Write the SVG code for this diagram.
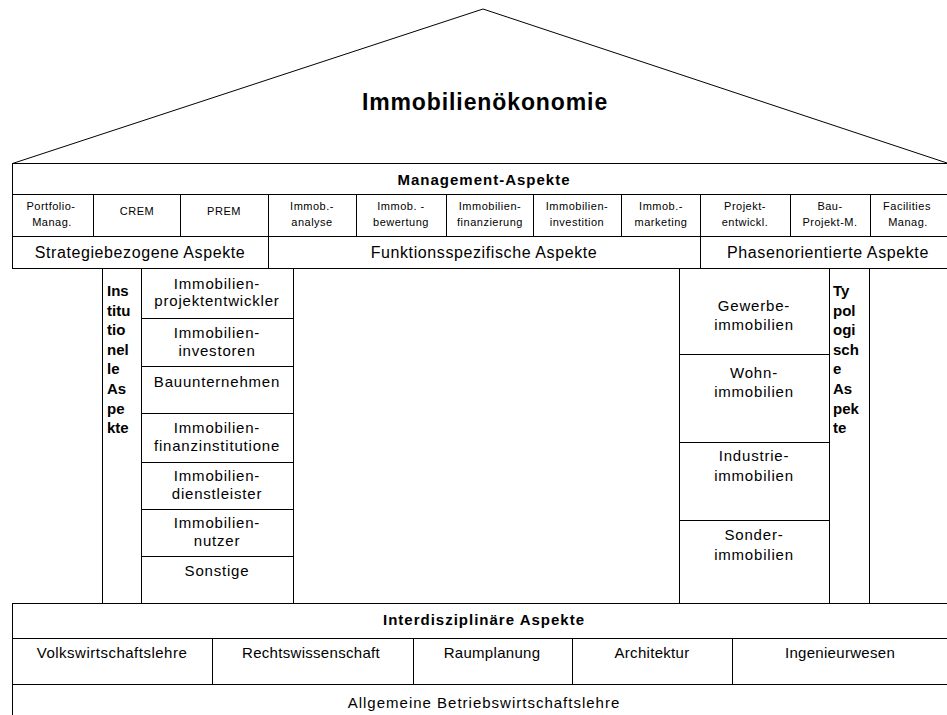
<svg xmlns="http://www.w3.org/2000/svg" width="947" height="715" viewBox="0 0 947 715">
<style>
text{font-family:"Liberation Sans",Arial,sans-serif;fill:#000;text-anchor:middle}
.ln{stroke:#000;stroke-width:1;fill:none}
.title{font-size:23px;font-weight:bold;letter-spacing:0.9px}
.hd{font-size:15px;font-weight:bold;letter-spacing:1px}
.sm{font-size:11px;letter-spacing:0.5px}
.md{font-size:16px;letter-spacing:0.6px}
.cell{font-size:15px;letter-spacing:0.8px}
.bt{font-size:15px;letter-spacing:0.3px}
.vt{font-size:15px;font-weight:bold;text-anchor:start}
</style>
<rect width="947" height="715" fill="#fff"/>
<g id="roof">
<polyline class="ln" points="12.5,163.5 483,9 950,164"/>
<text class="title" x="485" y="110">Immobilienökonomie</text>
</g>
<g id="management">
<rect class="ln" x="12.5" y="163.5" width="945" height="105"/>
<line class="ln" x1="12" y1="194.5" x2="950" y2="194.5"/>
<line class="ln" x1="12" y1="236.5" x2="950" y2="236.5"/>
<text class="hd" x="484" y="185">Management-Aspekte</text>
</g>
<g id="management-columns">
<line class="ln" x1="93.5" y1="194" x2="93.5" y2="236"/>
<line class="ln" x1="180.5" y1="194" x2="180.5" y2="236"/>
<line class="ln" x1="268.5" y1="194" x2="268.5" y2="269"/>
<line class="ln" x1="356.5" y1="194" x2="356.5" y2="236"/>
<line class="ln" x1="446.5" y1="194" x2="446.5" y2="236"/>
<line class="ln" x1="533.5" y1="194" x2="533.5" y2="236"/>
<line class="ln" x1="621.5" y1="194" x2="621.5" y2="236"/>
<line class="ln" x1="700.5" y1="194" x2="700.5" y2="269"/>
<line class="ln" x1="790.5" y1="194" x2="790.5" y2="236"/>
<line class="ln" x1="870.5" y1="194" x2="870.5" y2="236"/>
</g>
<g id="m-portfolio"><text class="sm" x="51" y="210">Portfolio-</text><text class="sm" x="52" y="226">Manag.</text></g>
<g id="m-crem"><text class="sm" x="137" y="215">CREM</text></g>
<g id="m-prem"><text class="sm" x="224" y="215">PREM</text></g>
<g id="m-analyse"><text class="sm" x="312" y="210">Immob.-</text><text class="sm" x="312" y="226">analyse</text></g>
<g id="m-bewertung"><text class="sm" x="401" y="210">Immob. -</text><text class="sm" x="401" y="226">bewertung</text></g>
<g id="m-finanzierung"><text class="sm" x="490" y="210">Immobilien-</text><text class="sm" x="490" y="226">finanzierung</text></g>
<g id="m-investition"><text class="sm" x="577" y="210">Immobilien-</text><text class="sm" x="577" y="226">investition</text></g>
<g id="m-marketing"><text class="sm" x="661" y="210">Immob.-</text><text class="sm" x="661" y="226">marketing</text></g>
<g id="m-projekt"><text class="sm" x="745" y="210">Projekt-</text><text class="sm" x="745" y="226">entwickl.</text></g>
<g id="m-bau"><text class="sm" x="830" y="210">Bau-</text><text class="sm" x="830" y="226">Projekt-M.</text></g>
<g id="m-facilities"><text class="sm" x="907" y="210">Facilities</text><text class="sm" x="908" y="226">Manag.</text></g>
<g id="strategie"><text class="md" x="140" y="258">Strategiebezogene Aspekte</text></g>
<g id="funktion"><text class="md" x="484" y="258">Funktionsspezifische Aspekte</text></g>
<g id="phasen"><text class="md" x="828" y="258">Phasenorientierte Aspekte</text></g>
<g id="institutionell">
<line class="ln" x1="102.5" y1="269" x2="102.5" y2="603"/>
<line class="ln" x1="141.5" y1="269" x2="141.5" y2="603"/>
<text class="vt" x="107" y="296">Ins</text>
<text class="vt" x="107" y="315.6">titu</text>
<text class="vt" x="107" y="335.2">tio</text>
<text class="vt" x="107" y="354.8">nel</text>
<text class="vt" x="107" y="374.4">le</text>
<text class="vt" x="107" y="394">As</text>
<text class="vt" x="107" y="413.6">pe</text>
<text class="vt" x="107" y="433.2">kte</text>
</g>
<g id="inst-cells">
<line class="ln" x1="293.5" y1="269" x2="293.5" y2="603"/>
<line class="ln" x1="141" y1="318.5" x2="293" y2="318.5"/>
<line class="ln" x1="141" y1="366.5" x2="293" y2="366.5"/>
<line class="ln" x1="141" y1="413.5" x2="293" y2="413.5"/>
<line class="ln" x1="141" y1="462.5" x2="293" y2="462.5"/>
<line class="ln" x1="141" y1="509.5" x2="293" y2="509.5"/>
<line class="ln" x1="141" y1="556.5" x2="293" y2="556.5"/>
</g>
<g id="i-projektentwickler"><text class="cell" x="217" y="289">Immobilien-</text><text class="cell" x="217" y="306">projektentwickler</text></g>
<g id="i-investoren"><text class="cell" x="217" y="338">Immobilien-</text><text class="cell" x="217" y="356">investoren</text></g>
<g id="i-bau"><text class="cell" x="217" y="387">Bauunternehmen</text></g>
<g id="i-finanz"><text class="cell" x="217" y="433">Immobilien-</text><text class="cell" x="217" y="451">finanzinstitutione</text></g>
<g id="i-dienst"><text class="cell" x="217" y="481">Immobilien-</text><text class="cell" x="217" y="499">dienstleister</text></g>
<g id="i-nutzer"><text class="cell" x="217" y="528">Immobilien-</text><text class="cell" x="217" y="546">nutzer</text></g>
<g id="i-sonstige"><text class="cell" x="217" y="576">Sonstige</text></g>
<g id="typ-cells">
<line class="ln" x1="679.5" y1="269" x2="679.5" y2="603"/>
<line class="ln" x1="829.5" y1="269" x2="829.5" y2="603"/>
<line class="ln" x1="679" y1="354.5" x2="829" y2="354.5"/>
<line class="ln" x1="679" y1="442.5" x2="829" y2="442.5"/>
<line class="ln" x1="679" y1="520.5" x2="829" y2="520.5"/>
</g>
<g id="t-gewerbe"><text class="cell" x="754" y="311">Gewerbe-</text><text class="cell" x="754" y="330">immobilien</text></g>
<g id="t-wohn"><text class="cell" x="754" y="378">Wohn-</text><text class="cell" x="754" y="397">immobilien</text></g>
<g id="t-industrie"><text class="cell" x="754" y="461">Industrie-</text><text class="cell" x="754" y="481">immobilien</text></g>
<g id="t-sonder"><text class="cell" x="754" y="540">Sonder-</text><text class="cell" x="754" y="560">immobilien</text></g>
<g id="typologisch">
<line class="ln" x1="869.5" y1="269" x2="869.5" y2="603"/>
<text class="vt" x="833" y="296">Ty</text>
<text class="vt" x="833" y="315.6">pol</text>
<text class="vt" x="833" y="335.2">ogi</text>
<text class="vt" x="833" y="354.8">sch</text>
<text class="vt" x="833" y="374.4">e</text>
<text class="vt" x="833" y="394">As</text>
<text class="vt" x="833" y="413.6">pek</text>
<text class="vt" x="833" y="433.2">te</text>
</g>
<g id="interdisziplinaer">
<rect class="ln" x="12.5" y="603.5" width="945" height="130"/>
<line class="ln" x1="12" y1="638.5" x2="950" y2="638.5"/>
<line class="ln" x1="12" y1="684.5" x2="950" y2="684.5"/>
<text class="hd" x="484" y="625">Interdisziplinäre Aspekte</text>
<line class="ln" x1="212.5" y1="638" x2="212.5" y2="684"/>
<line class="ln" x1="413.5" y1="638" x2="413.5" y2="684"/>
<line class="ln" x1="572.5" y1="638" x2="572.5" y2="684"/>
<line class="ln" x1="732.5" y1="638" x2="732.5" y2="684"/>
</g>
<g id="b-vwl"><text class="bt" x="112" y="658" style="letter-spacing:0.5px">Volkswirtschaftslehre</text></g>
<g id="b-recht"><text class="bt" x="311" y="658">Rechtswissenschaft</text></g>
<g id="b-raum"><text class="bt" x="492" y="658">Raumplanung</text></g>
<g id="b-arch"><text class="bt" x="652" y="658">Architektur</text></g>
<g id="b-ing"><text class="bt" x="840" y="658">Ingenieurwesen</text></g>
<g id="b-bwl"><text class="bt" x="484" y="708" style="letter-spacing:1px">Allgemeine Betriebswirtschaftslehre</text></g>
</svg>
